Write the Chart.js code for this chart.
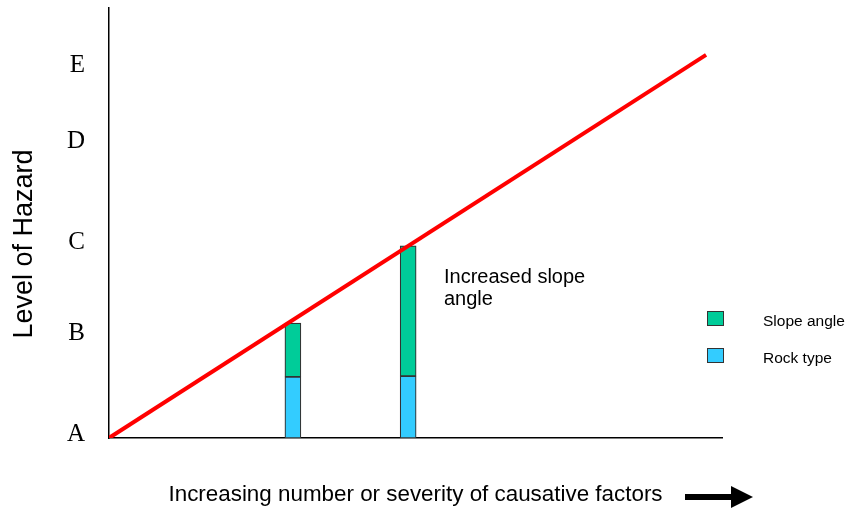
<!DOCTYPE html>
<html>
<head>
<meta charset="utf-8">
<script src="https://cdn.jsdelivr.net/npm/chart.js@4"></script>
<style>
  html, body { margin: 0; padding: 0; background: #fff; }
</style>
</head>
<body>
<canvas id="myChart" width="851" height="513"></canvas>
<script>
// DATA
const factorPositions = [30, 48.8];          // where the two example bars sit on the factor axis
const rockType = [14.2, 14.4];
const slopeAngle = [12.5, 30.3];
const hazardLineX = [0, 97.4];
const hazardLineY = [0, 89.1];
const hazardLevels = ['A', 'B', 'C', 'D', 'E'];
const hazardLevelValues = [0.9, 24.4, 45.5, 69.0, 86.7];

const toPoints = (xs, ys) => xs.map((x, i) => ({ x: x, y: ys[i] }));

// extra drawing: axis title on the left, note, arrow and legend
const extrasPlugin = {
  id: 'extras',
  afterDraw(chart) {
    const c = chart.ctx;
    c.save();
    c.fillStyle = '#000';

    // y title
    c.save();
    c.translate(25, 244);
    c.rotate(-Math.PI / 2);
    c.font = '27px "Liberation Sans", Arial, sans-serif';
    c.textAlign = 'center';
    c.textBaseline = 'middle';
    c.fillText('Level of Hazard', 0, 0);
    c.restore();

    // note next to the tall bar
    c.font = '20px "Liberation Sans", Arial, sans-serif';
    c.textAlign = 'left';
    c.textBaseline = 'alphabetic';
    c.fillText('Increased slope', 444, 283);
    c.fillText('angle', 444, 305);

    // arrow after the x title
    c.fillRect(685, 494, 47, 6);
    c.beginPath();
    c.moveTo(731, 486);
    c.lineTo(753, 497);
    c.lineTo(731, 508);
    c.closePath();
    c.fill();

    // legend (bar datasets, top one first)
    const bars = chart.data.datasets.filter(d => d.type !== 'line').slice().reverse();
    c.font = '15.5px "Liberation Sans", Arial, sans-serif';
    c.textBaseline = 'middle';
    bars.forEach((ds, i) => {
      const top = 311 + i * 37;
      c.fillStyle = ds.backgroundColor;
      c.fillRect(707, top, 17, 14);
      c.strokeStyle = '#333';
      c.lineWidth = 1;
      c.strokeRect(707.5, top + 0.5, 16, 14);
      c.fillStyle = '#000';
      c.fillText(ds.label, 763, top + 11);
    });
    c.restore();
  }
};

const ctx = document.getElementById('myChart');

let myChart = new Chart(ctx, {
  type: 'bar',
  data: {
    datasets: [
      {
        type: 'line',
        label: 'Hazard',
        data: toPoints(hazardLineX, hazardLineY),
        borderColor: '#FF0000',
        borderWidth: 4,
        pointRadius: 0,
        tension: 0,
        order: 0
      },
      {
        label: 'Rock type',
        data: toPoints(factorPositions, rockType),
        backgroundColor: '#33CCFF',
        borderColor: '#333333',
        borderWidth: 1.2,
        borderSkipped: false,
        barThickness: 16,
        grouped: false,
        order: 2
      },
      {
        label: 'Slope angle',
        data: toPoints(factorPositions, slopeAngle),
        backgroundColor: '#00CC99',
        borderColor: '#333333',
        borderWidth: 1.2,
        borderSkipped: false,
        barThickness: 16,
        grouped: false,
        order: 2
      }
    ]
  },
  options: {
    responsive: false,
    animation: false,
    layout: { padding: { top: 8, right: 129, left: 0, bottom: 0 } },
    plugins: {
      legend: { display: false },
      tooltip: { enabled: false }
    },
    scales: {
      x: {
        type: 'linear',
        min: 0,
        max: 100,
        offset: false,
        grid: { display: false, drawTicks: false },
        border: { color: '#000', width: 1.5 },
        ticks: { display: false },
        title: {
          display: true,
          text: 'Increasing number or severity of causative factors',
          color: '#000',
          font: { family: '"Liberation Sans", Arial, sans-serif', size: 22.4 },
          padding: { top: 0, bottom: 5 }
        },
        afterFit: (scale) => {
          scale.height = 75;
          scale.paddingLeft = 0;
          scale.paddingRight = 0;
        }
      },
      y: {
        min: 0,
        max: 100,
        stacked: true,
        grid: { display: false, drawTicks: false },
        border: { color: '#000', width: 1.5 },
        afterBuildTicks: (scale) => {
          scale.ticks = hazardLevelValues.map(v => ({ value: v }));
        },
        ticks: {
          autoSkip: false,
          padding: 24,
          color: '#000',
          font: { family: '"Liberation Serif", "Times New Roman", serif', size: 25 },
          callback: (value, index) => hazardLevels[index]
        },
        afterFit: (scale) => {
          scale.width = 109;
          scale.paddingTop = 0;
          scale.paddingBottom = 0;
        }
      }
    }
  },
  plugins: [extrasPlugin]
});
</script>
</body>
</html>
